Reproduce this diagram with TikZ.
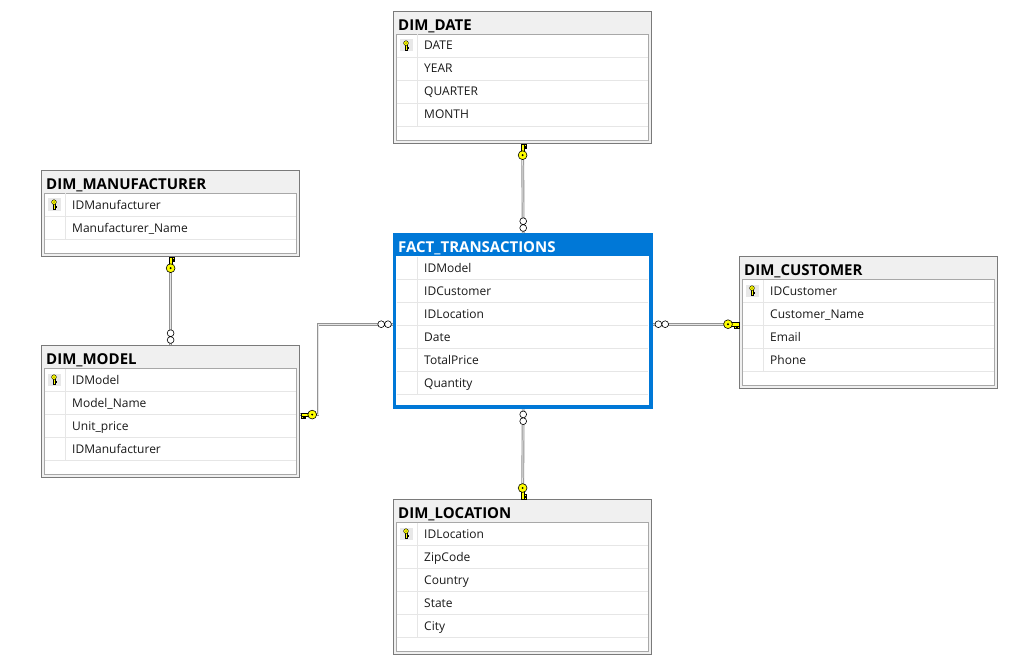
\documentclass[tikz,border=0pt]{standalone}
\usepackage{fontspec}
\setmainfont{Open Sans}
\usetikzlibrary{calc}

\definecolor{hdrbg}{HTML}{F0F0F0}
\definecolor{frame}{HTML}{7A7A7A}
\definecolor{innerframe}{HTML}{A8A8A8}
\definecolor{sepline}{HTML}{E6E6E6}
\definecolor{activeblue}{HTML}{0078D7}
\definecolor{keyyellow}{HTML}{FFFF00}
\definecolor{keybg}{HTML}{E8E8E8}

\tikzset{
  tblouter/.style={draw=frame, fill=hdrbg, line width=1.2pt, minimum width=258pt, inner sep=0pt},
  tblinner/.style={draw=innerframe, fill=white, line width=0.8pt, minimum width=252pt, inner sep=0pt},
  tbltitle/.style={font=\bfseries\fontsize{15}{17}\selectfont, inner sep=0pt, text=black},
  field/.style={font=\fontsize{12}{14}\selectfont, inner sep=0pt, text=black!90},
  rowsep/.style={draw=sepline, line width=0.8pt},
  conn/.style={draw=gray!85, double=gray!20, double distance=1pt, line width=0.9pt},
  erdkey/.pic={
    \draw[line width=0.6pt, fill=keyyellow] (3.5,-1.7) rectangle (11,1.7);
    \draw[line width=0.6pt, fill=keyyellow] (6.5,1.7) rectangle (8,3.6);
    \draw[line width=0.6pt, fill=keyyellow] (9.3,1.7) rectangle (10.8,3.6);
    \draw[line width=0.6pt, fill=keyyellow] (0,0) circle (4.4);
    \fill (0,0) circle (1.1);
  },
  erdmany/.pic={
    \draw[line width=0.6pt, fill=white] (5,0) circle (3.4) (11.8,0) circle (3.4);
  },
  rowkey/.pic={
    \fill[keybg] (-6.5,-6) rectangle (6.5,6);
    \draw[line width=0.4pt, fill=keyyellow] (-0.9,-1) rectangle (0.9,4.5);
    \draw[line width=0.4pt, fill=keyyellow] (0.9,1.5) -- (2.3,1.5) -- (2.3,2.7) -- (0.9,2.7);
    \draw[line width=0.4pt, fill=keyyellow] (0,-2.4) circle (2.4);
    \fill (0,-2.4) circle (0.6);
  }
}

% empty space below the last field
\newcommand{\erdgap}{14}

% #1 name, #2 x, #3 y, #4 number of fields, #5 title, #6 fields, #7 1 if first field is a key
\newcommand{\erdtable}[7]{%
  \pgfmathsetmacro{\tblh}{26+23*#4+\erdgap}%
  \pgfmathsetmacro{\inh}{23*#4+\erdgap}%
  \node[tblouter, minimum height=\tblh pt, anchor=north west] (#1) at (#2,#3) {};
  \node[tblinner, minimum height=\inh pt, anchor=north west] (#1-body) at (#2+3,#3+23) {};
  \node[tbltitle, anchor=base west] (#1-title) at (#2+5,#3+19.5) {#5};
  \draw[rowsep] (#2+24,#3+23.5) -- (#2+24,#3+23+23*#4);
  \foreach \f [count=\i from 0] in {#6} {
    \draw[rowsep] (#2+3.5,#3+46+23*\i) -- (#2+254.5,#3+46+23*\i);
    \node[field, anchor=base west] (#1-f\i) at (#2+31,#3+39+23*\i) {\f};
  }
  \ifnum#7=1 \pic at (#2+13,#3+34.5) {rowkey};\fi
}

\begin{document}
\begin{tikzpicture}[x=1pt, y=-1pt]
  \useasboundingbox[fill=white] (0,0) rectangle (1030,663);

  % dimension and fact tables
  \erdtable{date}{393}{11}{4}{DIM\_DATE}{DATE,YEAR,QUARTER,MONTH}{1}
  \erdtable{manu}{41}{170}{2}{DIM\_MANUFACTURER}{IDManufacturer,Manufacturer\_Name}{1}
  \erdtable{model}{41}{345}{4}{DIM\_MODEL}{IDModel,Model\_Name,Unit\_price,IDManufacturer}{1}
  \erdtable{cust}{739}{256}{4}{DIM\_CUSTOMER}{IDCustomer,Customer\_Name,Email,Phone}{1}
  \erdtable{loc}{393}{499}{5}{DIM\_LOCATION}{IDLocation,ZipCode,Country,State,City}{1}
  \begin{scope}[tblouter/.append style={draw=activeblue, fill=activeblue, line width=2.4pt},
                tblinner/.append style={draw=white},
                tbltitle/.append style={text=white}]
    \renewcommand{\erdgap}{10}
    \erdtable{fact}{393}{233}{6}{FACT\_TRANSACTIONS}{IDModel,IDCustomer,IDLocation,Date,TotalPrice,Quantity}{0}
  \end{scope}

  % relationships
  \draw[conn] (date.south) -- (fact.north);
  \draw[conn] (manu.south) -- (model.north);
  \draw[conn] ([yshift=-3pt]fact.west) -- ++(-75,0) |- ([yshift=-3pt]model.east);
  \draw[conn] ([yshift=-3pt]fact.east) -- ([yshift=-3pt]fact.east -| cust.west);
  \draw[conn] (fact.south) -- (loc.north);

  % one side (primary key)
  \pic[rotate=90] at ([yshift=-11pt]date.south) {erdkey};
  \pic[rotate=90] at ([yshift=-11pt]manu.south) {erdkey};
  \pic[xscale=-1] at ([xshift=12pt,yshift=-3pt]model.east) {erdkey};
  \pic at ([xshift=-11pt,yshift=-3pt]fact.east -| cust.west) {erdkey};
  \pic[rotate=-90, yscale=-1] at ([yshift=11pt]loc.north) {erdkey};

  % many side
  \pic[rotate=90] at (fact.north) {erdmany};
  \pic[rotate=90] at (model.north) {erdmany};
  \pic[rotate=180] at ([yshift=-3pt]fact.west) {erdmany};
  \pic at ([yshift=-3pt]fact.east) {erdmany};
  \pic[rotate=-90] at (fact.south) {erdmany};
\end{tikzpicture}
\end{document}
